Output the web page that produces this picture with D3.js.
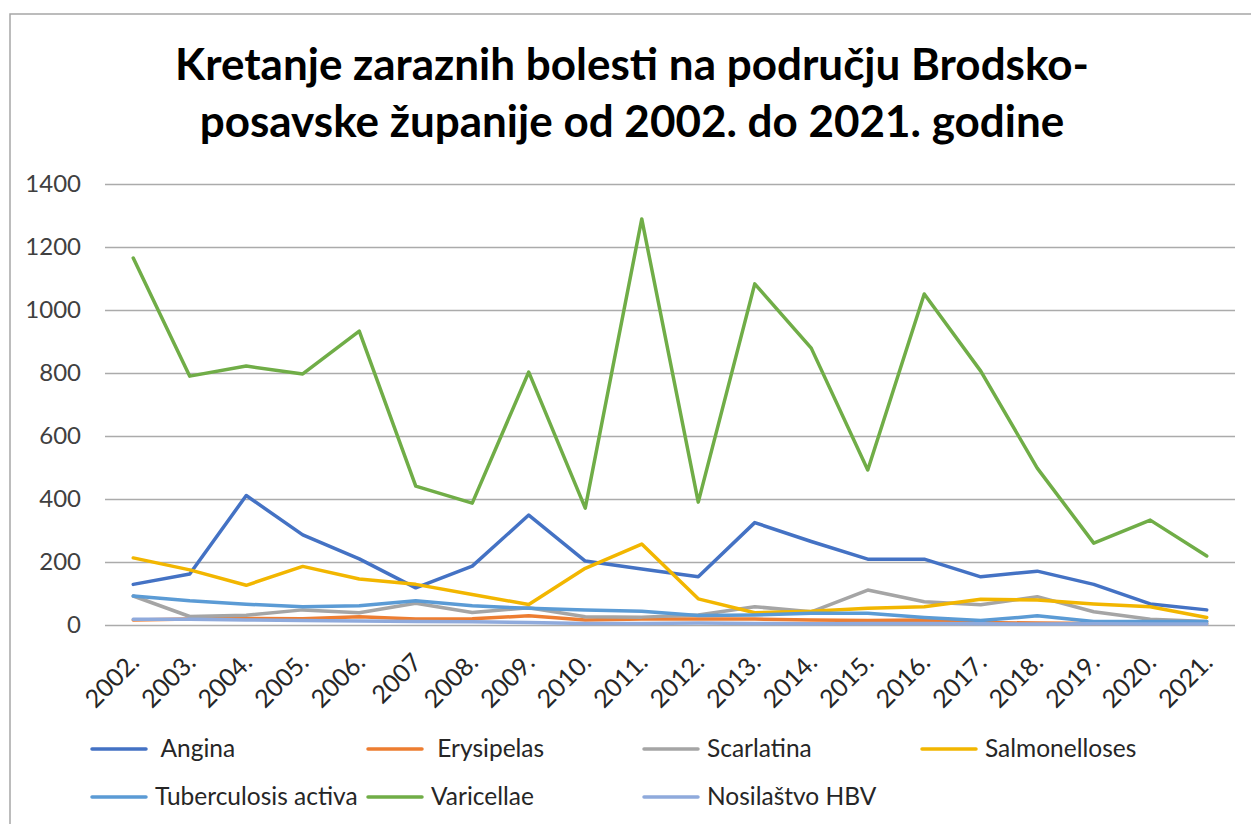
<!DOCTYPE html>
<html>
<head>
<meta charset="utf-8">
<script src="https://cdn.jsdelivr.net/npm/d3@7"></script>
<style>
  body { margin: 0; background: #fff; }
  svg { display: block; font-family: Lato, "Open Sans", sans-serif; }
</style>
</head>
<body>
<script>
// categories and values
const years = ["2002.", "2003.", "2004.", "2005.", "2006.", "2007", "2008.", "2009.", "2010.", "2011.",
  "2012.", "2013.", "2014.", "2015.", "2016.", "2017.", "2018.", "2019.", "2020.", "2021."];

const angina = [129, 162, 411, 286, 210, 118, 187, 349, 203, 178, 153, 325, 265, 209, 209, 153, 171, 129, 67, 48];
const erysipelas = [16, 19, 21, 20, 26, 19, 20, 29, 16, 19, 19, 19, 16, 14, 16, 8, 6, 5, 5, 5];
const scarlatina = [92, 27, 31, 48, 39, 69, 40, 55, 26, 25, 32, 58, 42, 111, 74, 64, 90, 42, 18, 11];
const salmonelloses = [213, 175, 126, 186, 146, 129, 97, 65, 180, 257, 83, 39, 44, 53, 58, 82, 79, 67, 58, 24];
const tuberculosis = [92, 77, 66, 58, 61, 77, 61, 53, 48, 44, 30, 32, 37, 37, 24, 14, 29, 11, 11, 11];
const varicellae = [1165, 790, 822, 797, 933, 441, 387, 803, 371, 1289, 390, 1083, 879, 492, 1051, 806, 498, 260, 333, 219];
const hbv = [18, 18, 16, 14, 13, 11, 10, 8, 5, 5, 6, 5, 4, 5, 5, 4, 3, 4, 3, 3];

const seriesNames = [" Angina", " Erysipelas", "Scarlatina", "Salmonelloses", "Tuberculosis activa", "Varicellae", "Nosilaštvo HBV"];
const seriesColors = ["#4472c4", "#ed7d31", "#a5a5a5", "#f2b600", "#5b9bd5", "#70ad47", "#8faadc"];
const seriesValues = [angina, erysipelas, scarlatina, salmonelloses, tuberculosis, varicellae, hbv];

const yTicks = [0, 200, 400, 600, 800, 1000, 1200, 1400];

const width = 1251, height = 824;
const plotLeft = 105, plotRight = 1235, plotTop = 184, plotBottom = 625;

const svg = d3.select("body").append("svg")
  .attr("width", width)
  .attr("height", height);

// chart frame (runs off the right and bottom of the capture)
svg.append("rect")
  .attr("x", 10).attr("y", 14)
  .attr("width", 1400).attr("height", 1000)
  .attr("fill", "none")
  .attr("stroke", "#a6a6a6")
  .attr("stroke-width", 1.5);

// title
const title = svg.append("text")
  .attr("text-anchor", "middle")
  .attr("font-weight", "bold")
  .attr("font-size", 44)
  .attr("fill", "#000");
title.append("tspan").attr("x", 632).attr("y", 80).text("Kretanje zaraznih bolesti na području Brodsko-");
title.append("tspan").attr("x", 632).attr("y", 137).text("posavske županije od 2002. do 2021. godine");

const x = d3.scalePoint().domain(years).range([plotLeft, plotRight]).padding(0.5);
const y = d3.scaleLinear().domain([0, 1400]).range([plotBottom, plotTop]);

// y axis with gridlines
const yAxis = svg.append("g")
  .attr("transform", `translate(${plotLeft},0)`)
  .call(d3.axisLeft(y).tickValues(yTicks).tickFormat(d3.format("d"))
    .tickSize(-(plotRight - plotLeft)).tickPadding(24));
yAxis.select(".domain").remove();
yAxis.selectAll(".tick line").attr("stroke", "#ababab").attr("stroke-width", 1.3);
yAxis.selectAll(".tick text")
  .attr("font-size", 24)
  .attr("font-family", "Lato, sans-serif")
  .attr("fill", "#404040");

// x axis, rotated labels
const xAxis = svg.append("g")
  .attr("transform", `translate(0,${plotBottom})`)
  .call(d3.axisBottom(x).tickSize(0));
xAxis.select(".domain").remove();
xAxis.selectAll(".tick text")
  .attr("x", null).attr("y", null).attr("dy", null)
  .attr("transform", "translate(7,39) rotate(-45)")
  .attr("text-anchor", "end")
  .attr("font-size", 25)
  .attr("font-family", "Lato, sans-serif")
  .attr("fill", "#262626");

// lines
const line = d3.line()
  .x((d, i) => x(years[i]))
  .y(d => y(d));

svg.append("g")
  .selectAll("path")
  .data(seriesValues)
  .enter().append("path")
  .attr("d", d => line(d))
  .attr("fill", "none")
  .attr("stroke", (d, i) => seriesColors[i])
  .attr("stroke-width", 3.5)
  .attr("stroke-linejoin", "round")
  .attr("stroke-linecap", "round");

// legend
const legendX = [92, 368, 644, 922];
const legendY = [749, 797];
const legend = svg.append("g")
  .selectAll("g")
  .data(seriesNames)
  .enter().append("g")
  .attr("transform", (d, i) => `translate(${legendX[i % 4]},${legendY[Math.floor(i / 4)]})`);

legend.append("line")
  .attr("x1", 0).attr("x2", 54)
  .attr("stroke", (d, i) => seriesColors[i])
  .attr("stroke-width", 3.5)
  .attr("stroke-linecap", "round");

legend.append("text")
  .attr("x", 63).attr("y", 8)
  .style("white-space", "pre")
  .attr("font-size", 24.5)
  .attr("fill", "#262626")
  .text(d => d);
</script>
</body>
</html>
